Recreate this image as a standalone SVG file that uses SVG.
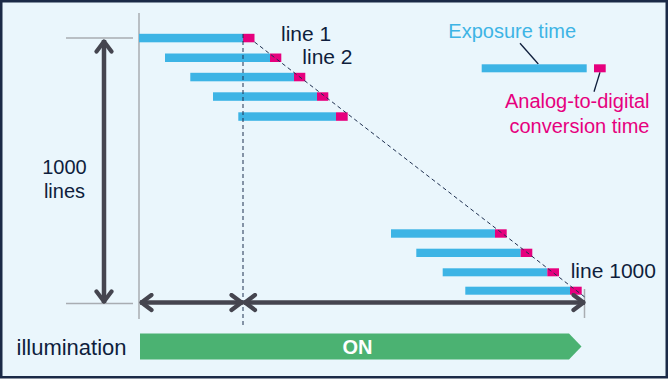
<svg xmlns="http://www.w3.org/2000/svg" width="668" height="379" viewBox="0 0 668 379">
<defs>
<style>
.t{font-family:"Liberation Sans",Arial,sans-serif;fill:#0f1e3c}
.exp{fill:#3db4e5}
.adc{fill:#e6007e}
.gray{stroke:#a9adb2;stroke-width:1.5;fill:none}
.dash{stroke:#1f3050;stroke-width:1;stroke-dasharray:4 3;fill:none}
.arr{stroke:#45454f;stroke-width:4.5;fill:none;marker-start:url(#ah);marker-end:url(#ah)}
.lead{stroke:#0f1e3c;stroke-width:1.3;fill:none}
</style>
<marker id="ah" viewBox="-14 -10 16 20" markerWidth="16" markerHeight="20" refX="0" refY="0" orient="auto-start-reverse" markerUnits="userSpaceOnUse">
<path d="M-11.5,-7.5 L-1.5,0 L-11.5,7.5" stroke="#45454f" stroke-width="4.2" fill="none" stroke-linecap="round" stroke-linejoin="round"/>
</marker>
</defs>
<rect x="1.25" y="1.25" width="665.5" height="376" fill="#eaf6fc" stroke="#1b2a47" stroke-width="2.5"/>

<g id="guides">
<line class="gray" x1="139" y1="13" x2="139" y2="319"/>
<line class="gray" x1="66" y1="38" x2="133" y2="38"/>
<line class="gray" x1="66" y1="303.5" x2="133" y2="303.5"/>
<line class="gray" x1="584.5" y1="289" x2="584.5" y2="318"/>
</g>

<g id="bars-top">
<rect class="exp" x="139" y="33.8" width="104" height="8.5"/><rect class="adc" x="243" y="33.8" width="11.5" height="8.5"/>
<rect class="exp" x="165" y="53.5" width="105" height="8.5"/><rect class="adc" x="270" y="53.5" width="11.3" height="8.5"/>
<rect class="exp" x="190.3" y="72.8" width="103.7" height="8.5"/><rect class="adc" x="294" y="72.8" width="11.3" height="8.5"/>
<rect class="exp" x="213" y="92.3" width="104" height="8.5"/><rect class="adc" x="317" y="92.3" width="11.3" height="8.5"/>
<rect class="exp" x="238.3" y="112.3" width="97.7" height="8.5"/><rect class="adc" x="336" y="112.3" width="11.7" height="8.5"/>
</g>

<g id="bars-bottom">
<rect class="exp" x="391" y="229.3" width="104" height="8.4"/><rect class="adc" x="495" y="229.3" width="11.7" height="8.4"/>
<rect class="exp" x="416.3" y="248.7" width="104.4" height="8.3"/><rect class="adc" x="520.7" y="248.7" width="11.6" height="8.3"/>
<rect class="exp" x="442.7" y="268.3" width="104.6" height="8"/><rect class="adc" x="547.3" y="268.3" width="11.7" height="8"/>
<rect class="exp" x="465.3" y="286.7" width="104.7" height="8"/><rect class="adc" x="570" y="286.7" width="11.7" height="8"/>
</g>

<g id="connectors">
<line class="dash" x1="243" y1="34" x2="243" y2="327"/>
<line class="dash" x1="254.5" y1="42" x2="586" y2="298"/>
<line class="arr" x1="104" y1="40" x2="104" y2="303"/>
<line class="arr" x1="140" y1="302.5" x2="243" y2="302.5"/>
<line class="arr" x1="243.5" y1="302.5" x2="585" y2="302.5"/>
<line class="lead" x1="520" y1="43.3" x2="538.3" y2="64"/>
<line class="lead" x1="600" y1="72.3" x2="594" y2="91.7"/>
</g>

<g id="labels">
<text class="t" x="281" y="40.7" font-size="21">line 1</text>
<text class="t" x="302.3" y="64" font-size="21">line 2</text>
<text class="t" x="570.7" y="278.3" font-size="21">line 1000</text>
<text class="t" x="64.5" y="174.3" font-size="20" text-anchor="middle">1000</text>
<text class="t" x="64.5" y="197.7" font-size="20" text-anchor="middle">lines</text>
</g>

<g id="legend">
<rect class="exp" x="481.7" y="64.3" width="105" height="8"/>
<rect class="adc" x="594" y="64.3" width="11.7" height="8"/>
<text x="448.3" y="38.3" font-size="20" font-family="Liberation Sans, Arial, sans-serif" fill="#3db4e5">Exposure time</text>
<text x="649.5" y="108.3" font-size="20" font-family="Liberation Sans, Arial, sans-serif" fill="#e6007e" text-anchor="end">Analog-to-digital</text>
<text x="649.5" y="132.7" font-size="20" font-family="Liberation Sans, Arial, sans-serif" fill="#e6007e" text-anchor="end">conversion time</text>
</g>

<g id="illumination">
<text class="t" x="16.5" y="354.7" font-size="22">illumination</text>
<polygon points="140,333.5 569,333.5 581.5,346.5 569,359.5 140,359.5" fill="#4bb272"/>
<text x="357.5" y="354" font-size="20" font-weight="bold" font-family="Liberation Sans, Arial, sans-serif" fill="#ffffff" text-anchor="middle">ON</text>
</g>
</svg>
